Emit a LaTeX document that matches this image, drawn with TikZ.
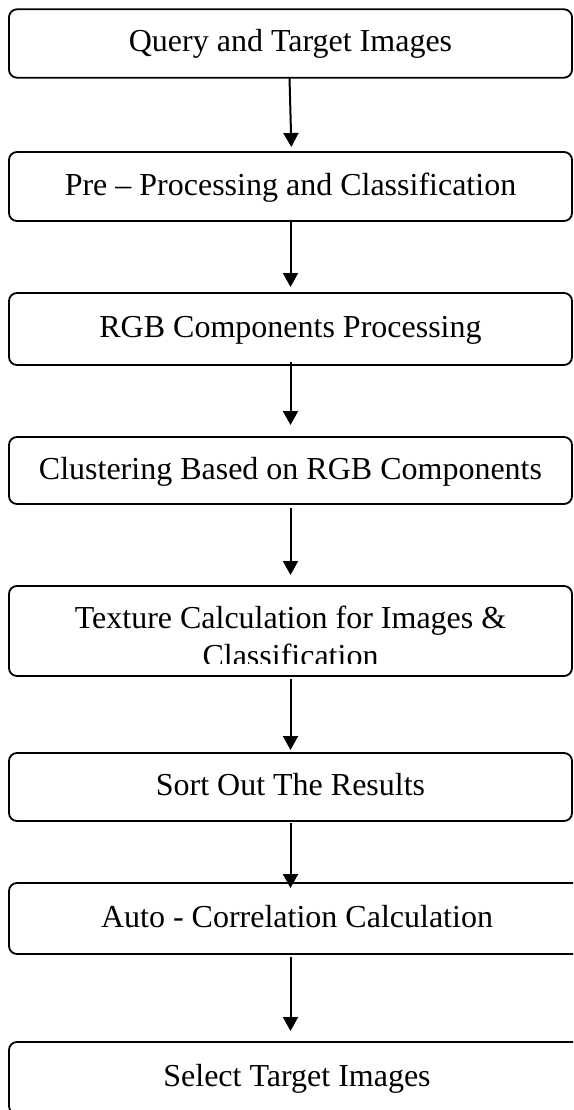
\documentclass[tikz,border=0pt]{standalone}
\usepackage{fontspec}
\setmainfont{Liberation Serif}
\usetikzlibrary{arrows.meta}
\tikzset{
  flowbox/.style={draw, line width=1.8pt, rounded corners=8pt, inner sep=0pt, outer sep=0pt,
    minimum width=563pt, font=\fontsize{32}{38}\selectfont, text height=21pt, text depth=4pt},
  widebox/.style={flowbox, minimum width=576pt},
  flowarrow/.style={line width=2pt, -{Triangle[width=15pt,length=14pt]}}
}
\begin{document}
\begin{tikzpicture}[x=1pt,y=-1pt]
\clip (0,0) rectangle (573,1110);
\node[flowbox, minimum height=68.4pt] (b1) at (290.5,43.5) {Query and Target Images};
\node[flowbox, minimum height=69pt] (b2) at (290.5,186.5) {Pre -- Processing and Classification};
\node[flowbox, minimum height=72pt] (b3) at (290.5,329) {RGB Components Processing};
\node[flowbox, minimum height=67pt] (b4) at (290.5,470.5) {Clustering Based on RGB Components};
\node[flowbox, minimum height=90pt] (b5) at (290.5,631) {};
\begin{scope}
  \clip (9,586) rectangle (572,663);
  \node[font=\fontsize{32}{38}\selectfont, align=center, anchor=north, inner sep=0pt] (t5) at (290.5,606)
    {Texture Calculation for Images \&\\Classification};
\end{scope}
\node[flowbox, minimum height=68pt] (b6) at (290.5,787) {Sort Out The Results};
\node[widebox, minimum height=71pt] (b7) at (297,918.5) {Auto - Correlation Calculation};
\node[widebox, minimum height=72pt] (b8) at (297,1078) {Select Target Images};

\draw[flowarrow, shorten <=0.3pt, shorten >=5pt] ([xshift=-1pt]b1.south) -- ([xshift=1pt]b2.north);
\draw[flowarrow, shorten >=6pt] (b2.south) -- (b3.north);
\draw[flowarrow, shorten <=-3pt, shorten >=12pt] (b3.south) -- (b4.north);
\draw[flowarrow, shorten <=4pt, shorten >=11pt] (b4.south) -- (b5.north);
\draw[flowarrow, shorten <=3pt, shorten >=3pt] (b5.south) -- (b6.north);
\draw[flowarrow, shorten <=2pt, shorten >=-5pt] (b6.south) -- (b6.south |- b7.north);
\draw[flowarrow, shorten <=3pt, shorten >=11pt] (b6.south |- b7.south) -- (b6.south |- b8.north);
\end{tikzpicture}
\end{document}
